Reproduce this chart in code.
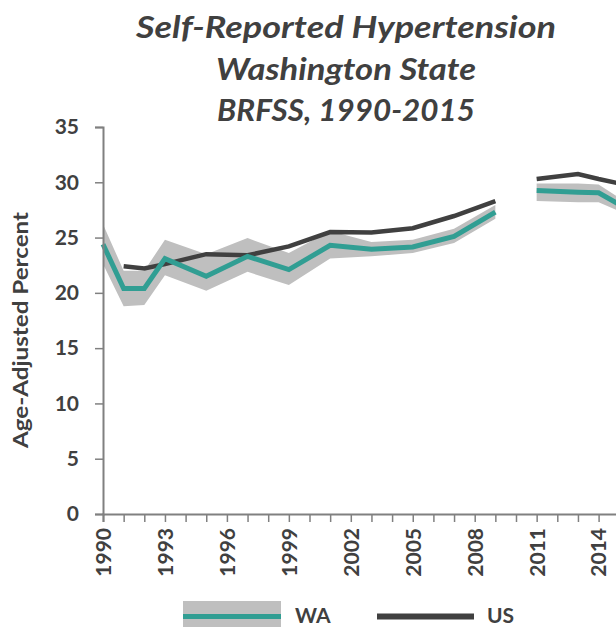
<!DOCTYPE html>
<html>
<head>
<meta charset="utf-8">
<script src="https://cdn.jsdelivr.net/npm/d3@7"></script>
<style>
  body { margin: 0; background: #fff; }
  svg { display: block; font-family: Lato, 'Open Sans', sans-serif; }
</style>
</head>
<body>
<div id="chart"></div>
<script>
// data (null = no survey value, 2010 is the break)
const years = [1990, 1991, 1992, 1993, 1995, 1997, 1999, 2001, 2003, 2005, 2007, 2009, 2010, 2011, 2013, 2014, 2015]
const waValues = [24.4, 20.4, 20.4, 23.1, 21.5, 23.3, 22.1, 24.3, 23.95, 24.15, 25.1, 27.3, null, 29.25, 29.1, 29.05, 28.0]
const waLower = [22.6, 18.8, 18.9, 21.6, 20.2, 21.9, 20.7, 23.1, 23.3, 23.6, 24.5, 26.7, null, 28.3, 28.2, 28.2, 27.4]
const waUpper = [26.2, 22.0, 22.0, 24.8, 23.5, 24.95, 23.6, 25.6, 24.6, 24.8, 25.8, 27.95, null, 29.9, 29.9, 29.8, 28.6]
const usValues = [null, 22.4, 22.2, 22.6, 23.5, 23.4, 24.2, 25.5, 25.45, 25.85, 26.95, 28.3, null, 30.3, 30.75, 30.3, 29.9]
const yTicks = [0, 5, 10, 15, 20, 25, 30, 35]
const titleLines = ['Self-Reported Hypertension', 'Washington State', 'BRFSS, 1990-2015']

let margin = { top: 127, left: 103, right: 0, bottom: 113 }
let width = 616
let height = 627

const svg = d3
  .select('#chart')
  .append('svg')
  .attr('width', width)
  .attr('height', height)

var xScale = d3
  .scaleLinear()
  .domain([1990, 2015])
  .range([margin.left, margin.left + 25 * 20.65])

var yScale = d3
  .scaleLinear()
  .domain([0, 35])
  .range([514, margin.top])

const rows = years.map((yr, i) => ({
  year: yr,
  wa: waValues[i],
  lo: waLower[i],
  hi: waUpper[i],
  us: usValues[i]
}))

// title - the original font is much wider than Lato, so stretch each line
const titleWidths = [420, 260, 258]
svg
  .selectAll('.title')
  .data(titleLines)
  .enter()
  .append('text')
  .attr('class', 'title')
  .attr('x', (d, i) => 346 - titleWidths[i] / 2)
  .attr('y', (d, i) => 38 + i * 41.5)
  .attr('textLength', (d, i) => titleWidths[i])
  .attr('lengthAdjust', 'spacingAndGlyphs')
  .style('font-size', '31px')
  .style('font-weight', 'bold')
  .style('font-style', 'italic')
  .attr('fill', '#404040')
  .text(d => d)

// confidence band
var area = d3
  .area()
  .defined(d => d.lo != null)
  .x(d => xScale(d.year))
  .y0(d => yScale(d.lo))
  .y1(d => yScale(d.hi))

svg
  .append('path')
  .datum(rows)
  .attr('d', area)
  .attr('fill', '#bfbfbf')

var usLine = d3
  .line()
  .defined(d => d.us != null)
  .x(d => xScale(d.year))
  .y(d => yScale(d.us))

var waLine = d3
  .line()
  .defined(d => d.wa != null)
  .x(d => xScale(d.year))
  .y(d => yScale(d.wa))

svg
  .append('path')
  .datum(rows)
  .attr('d', usLine)
  .attr('fill', 'none')
  .attr('stroke', '#404040')
  .attr('stroke-width', 4.5)

svg
  .append('path')
  .datum(rows)
  .attr('d', waLine)
  .attr('fill', 'none')
  .attr('stroke', '#319e93')
  .attr('stroke-width', 5)

// axes
var yAxis = d3
  .axisLeft(yScale)
  .tickValues(yTicks)
  .tickSize(8)
  .tickPadding(16)

var xAxis = d3
  .axisBottom(xScale)
  .tickValues(d3.range(1990, 2016))
  .tickSize(8)
  .tickFormat(d => ((d - 1990) % 3 === 0 ? d : ''))

const yG = svg
  .append('g')
  .attr('transform', 'translate(' + margin.left + ',0)')
  .call(yAxis)

const xG = svg
  .append('g')
  .attr('transform', 'translate(0,514)')
  .call(xAxis)

for (const g of [yG, xG]) {
  g.select('.domain').attr('stroke', '#808080').attr('stroke-width', 2)
  g.selectAll('.tick line').attr('stroke', '#808080').attr('stroke-width', 1.5)
  g.selectAll('.tick text')
    .attr('fill', '#404040')
    .style('font-size', '21px')
    .style('font-weight', 'bold')
    .style('font-family', 'Lato, sans-serif')
}

xG.selectAll('.tick text')
  .attr('transform', 'rotate(-90)')
  .attr('text-anchor', 'end')
  .attr('x', -14)
  .attr('y', 0)
  .attr('dy', '0.35em')

// y axis title
svg
  .append('text')
  .attr('transform', 'translate(28,330) rotate(-90)')
  .attr('x', -118)
  .attr('textLength', 236)
  .attr('lengthAdjust', 'spacingAndGlyphs')
  .style('font-size', '21px')
  .style('font-weight', 'bold')
  .attr('fill', '#404040')
  .text('Age-Adjusted Percent')

// legend
const legend = svg.append('g')

legend
  .append('rect')
  .attr('x', 183)
  .attr('y', 601)
  .attr('width', 98)
  .attr('height', 28)
  .attr('fill', '#bfbfbf')

legend
  .append('line')
  .attr('x1', 183)
  .attr('x2', 281)
  .attr('y1', 616.5)
  .attr('y2', 616.5)
  .attr('stroke', '#319e93')
  .attr('stroke-width', 5)

legend
  .append('line')
  .attr('x1', 377)
  .attr('x2', 474)
  .attr('y1', 616.5)
  .attr('y2', 616.5)
  .attr('stroke', '#404040')
  .attr('stroke-width', 6)

legend
  .selectAll('.label')
  .data([{ t: 'WA', x: 295 }, { t: 'US', x: 487 }])
  .enter()
  .append('text')
  .attr('x', d => d.x)
  .attr('y', 623)
  .style('font-size', '21px')
  .style('font-weight', 'bold')
  .attr('fill', '#404040')
  .text(d => d.t)
</script>
</body>
</html>
